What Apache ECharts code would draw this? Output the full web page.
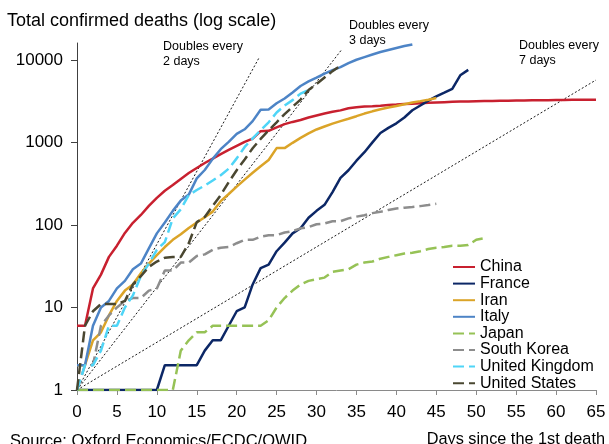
<!DOCTYPE html>
<html>
<head>
<meta charset="utf-8">
<title>Total confirmed deaths (log scale)</title>
<style>
  html, body { margin: 0; padding: 0; background: #fff; }
  #chart { width: 609px; height: 444px; }
</style>
<script src="https://cdn.jsdelivr.net/npm/echarts@6/dist/echarts.min.js"></script>
</head>
<body>
<div id="chart"></div>
<script>
// total confirmed deaths, index = days since the 1st death
const china = [6, 6, 17, 25, 41, 56, 80, 106, 132, 170, 213, 259, 304, 361, 425, 490, 563, 637, 722, 811,
  908, 1016, 1113, 1367, 1380, 1523, 1665, 1770, 1868, 2004, 2118, 2236, 2345, 2442, 2592, 2663, 2715, 2744,
  2788, 2835, 2870, 2912, 2943, 2981, 3012, 3042, 3070, 3097, 3119, 3136, 3158, 3169, 3176, 3189, 3199, 3213,
  3226, 3237, 3245, 3249, 3253, 3259, 3274, 3274, 3281, 3285];
const france = [1, 1, 1, 1, 1, 1, 1, 1, 1, 1, 1, 2, 2, 2, 2, 2, 3, 4, 4, 6, 9, 10, 19, 30, 33, 48, 61, 79, 91,
  122, 148, 175, 250, 372, 460, 600, 760, 1000, 1300, 1500, 1700, 2000, 2450, 2800, 3200, 3600, 4000, 4450,
  6500, 7560];
const iran = [2, 2, 4, 5, 8, 12, 16, 19, 26, 34, 43, 54, 66, 77, 92, 107, 124, 145, 194, 237, 291, 354, 429,
  514, 611, 853, 853, 988, 1135, 1284, 1433, 1556, 1685, 1812, 1934, 2077, 2234, 2378, 2517, 2640, 2757, 2898,
  3036, 3160, 3294, 3452];
const italy = [2, 2, 6, 10, 12, 17, 21, 29, 34, 52, 79, 107, 148, 197, 233, 366, 463, 631, 827, 1016, 1266,
  1441, 1809, 2480, 2503, 2978, 3405, 4032, 4825, 5476, 6077, 6820, 7503, 8165, 9134, 10023, 10779, 11591,
  12428, 13155, 13915, 14681, 15362];
const japan = [1, 1, 1, 1, 1, 1, 1, 1, 1, 1, 1, 1, 1, 3, 4, 5, 5, 6, 6, 6, 6, 6, 6, 6, 7, 10, 13, 16, 19, 21,
  22, 23, 27, 28, 29, 33, 35, 36, 39, 41, 43, 45, 46, 48, 51, 53, 54, 56, 56, 57, 66, 69];
const southKorea = [1, 2, 2, 6, 8, 10, 12, 13, 13, 16, 17, 28, 28, 35, 35, 42, 44, 50, 53, 54, 60, 66, 66, 72,
  75, 75, 81, 84, 91, 94, 102, 104, 111, 111, 120, 126, 131, 139, 144, 152, 158, 162, 165, 169, 174, 180];
const unitedKingdom = [1, 2, 2, 3, 6, 6, 10, 14, 24, 34, 50, 62, 120, 155, 230, 265, 300, 345, 400, 480, 640,
  880, 1120, 1400, 1750, 2300, 2800, 3250, 3900, 4300];
const unitedStates = [1, 6, 9, 11, 11, 11, 12, 19, 24, 31, 36, 40, 41, 41, 60, 108, 125, 170, 230, 330, 460,
  620, 850, 1100, 1400, 1750, 2200, 2700, 3300, 4300, 5100, 6100, 7300, 8500];

// "doubles every n days" guide lines: [day, deaths] at both ends
const doubles2 = [[0, 1], [22.8, 10600]];
const doubles3 = [[0, 1], [33.2, 13500]];
const doubles7 = [[0, 1], [65, 5700]];

const yTicks = [1, 10, 100, 1000, 10000];
const countries = ["China", "France", "Iran", "Italy", "Japan", "South Korea", "United Kingdom", "United States"];

const font = "'Liberation Sans', Arial, sans-serif";
const chart = echarts.init(document.getElementById("chart"), null, { renderer: "canvas" });

function guide(name, points) {
  return {
    name: name,
    type: "line",
    data: points,
    symbol: "none",
    silent: true,
    z: 1,
    lineStyle: { color: "#1a1a1a", width: 1, type: [2, 2] },
  };
}

function country(name, values, color, dashed) {
  return {
    name: name,
    type: "line",
    data: values.map((v, i) => [i, v]),
    symbol: "none",
    color: color,
    z: 2,
    lineStyle: { color: color, width: 2.5, type: dashed ? [11, 5] : "solid" },
    emphasis: { disabled: true },
  };
}

const option = {
  animation: false,
  backgroundColor: "#fff",
  textStyle: { fontFamily: font },
  grid: { left: 77, right: 13, top: 43, bottom: 54, containLabel: false },
  legend: {
    data: countries,
    orient: "vertical",
    left: 452,
    top: 259,
    padding: 0,
    itemWidth: 22,
    itemHeight: 12,
    itemGap: 0.6,
    selectedMode: false,
    itemStyle: { opacity: 0 },
    textStyle: { fontSize: 16, color: "#000", lineHeight: 16, fontFamily: font },
  },
  xAxis: {
    type: "value",
    min: 0,
    max: 65,
    interval: 5,
    axisLine: { show: true, onZero: false, lineStyle: { color: "#8a8a8a", width: 1 } },
    axisTick: { show: true, length: 5, lineStyle: { color: "#8a8a8a" } },
    axisLabel: { fontSize: 17, color: "#000", margin: 14, fontFamily: font },
    splitLine: { show: false },
  },
  yAxis: {
    type: "log",
    logBase: 10,
    min: 1,
    max: 16000,
    axisLine: { show: true, lineStyle: { color: "#404040", width: 1 } },
    axisTick: { show: true, length: 6, customValues: yTicks, lineStyle: { color: "#404040" } },
    axisLabel: {
      fontSize: 17, color: "#000", margin: 14, fontFamily: font,
      customValues: yTicks,
      formatter: (v) => String(Math.round(v)),
    },
    splitLine: { show: false },
    minorTick: { show: false },
  },
  graphic: [
    { type: "text", x: 7, y: 21.5, silent: true,
      style: { text: "Total confirmed deaths (log scale)", font: "18px " + font, fill: "#000", verticalAlign: "middle" } },
    { type: "text", x: 163, y: 39.5, silent: true,
      style: { text: "Doubles every\n2 days", font: "12.5px " + font, lineHeight: 15, fill: "#000", verticalAlign: "top" } },
    { type: "text", x: 349, y: 18.5, silent: true,
      style: { text: "Doubles every\n3 days", font: "12.5px " + font, lineHeight: 15, fill: "#000", verticalAlign: "top" } },
    { type: "text", x: 519, y: 38.5, silent: true,
      style: { text: "Doubles every\n7 days", font: "12.5px " + font, lineHeight: 15, fill: "#000", verticalAlign: "top" } },
    { type: "text", x: 10, y: 441, silent: true,
      style: { text: "Source: Oxford Economics/ECDC/OWID", font: "16.5px " + font, fill: "#000", verticalAlign: "middle" } },
    { type: "text", x: 605, y: 440, silent: true,
      style: { text: "Days since the 1st death", font: "16.3px " + font, fill: "#000", align: "right", verticalAlign: "middle" } },
  ],
  series: [
    guide("Doubles every 2 days", doubles2),
    guide("Doubles every 3 days", doubles3),
    guide("Doubles every 7 days", doubles7),
    country("China", china, "#c8202f", false),
    country("France", france, "#0c2766", false),
    country("Iran", iran, "#dba428", false),
    country("Italy", italy, "#4d84c6", false),
    country("Japan", japan, "#96c256", true),
    country("South Korea", southKorea, "#8d8d8d", true),
    country("United Kingdom", unitedKingdom, "#4fd5f7", true),
    country("United States", unitedStates, "#4a4731", true),
  ],
};

chart.setOption(option);
window.addEventListener("resize", function () {
  chart.resize();
});
</script>
</body>
</html>
